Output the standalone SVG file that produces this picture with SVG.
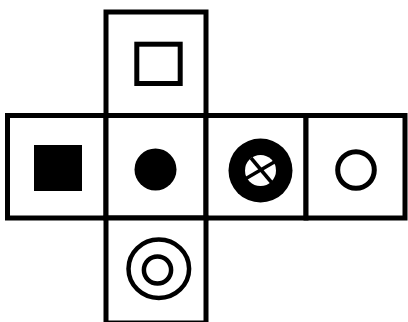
<svg xmlns="http://www.w3.org/2000/svg" width="408" height="322" viewBox="0 0 408 322">
  <style>
    .face { fill: #ffffff; stroke: #000000; stroke-width: 5; }
    .ol { fill: none; stroke: #000000; stroke-width: 5; }
    .ol4 { fill: none; stroke: #000000; stroke-width: 4.5; }
    .solid { fill: #000000; stroke: none; }
  </style>
  <rect width="408" height="322" fill="#ffffff"/>
  <g id="face-top">
    <rect class="face" x="106" y="12" width="100" height="103.5"/>
    <rect class="ol" x="136.8" y="44.2" width="43.4" height="39.3"/>
  </g>
  <g id="face-left">
    <rect class="face" x="7.5" y="115.5" width="98.5" height="102.5"/>
    <rect class="solid" x="34" y="145" width="48" height="46"/>
  </g>
  <g id="face-front">
    <rect class="face" x="106" y="115.5" width="100" height="102.5"/>
    <circle class="solid" cx="155.5" cy="169.5" r="21"/>
  </g>
  <g id="face-right">
    <rect class="face" x="206" y="115.5" width="100" height="102.5"/>
    <circle class="solid" cx="260.5" cy="170.5" r="32"/>
    <circle cx="260.5" cy="170.5" r="15.5" fill="#ffffff"/>
    <g stroke="#000000" stroke-width="3.5">
      <line x1="251" y1="158" x2="272" y2="183"/>
      <line x1="246" y1="178.5" x2="276" y2="161"/>
    </g>
  </g>
  <g id="face-back">
    <rect class="face" x="306" y="115.5" width="99" height="102.5"/>
    <circle class="ol" cx="356" cy="170" r="18.3"/>
  </g>
  <g id="face-bottom">
    <rect class="face" x="106" y="218" width="100" height="105"/>
    <ellipse class="ol4" cx="158.8" cy="268.7" rx="30.3" ry="29.2"/>
    <circle class="ol4" cx="157.5" cy="270" r="13.6"/>
  </g>
  <g id="connectors"/>
</svg>
